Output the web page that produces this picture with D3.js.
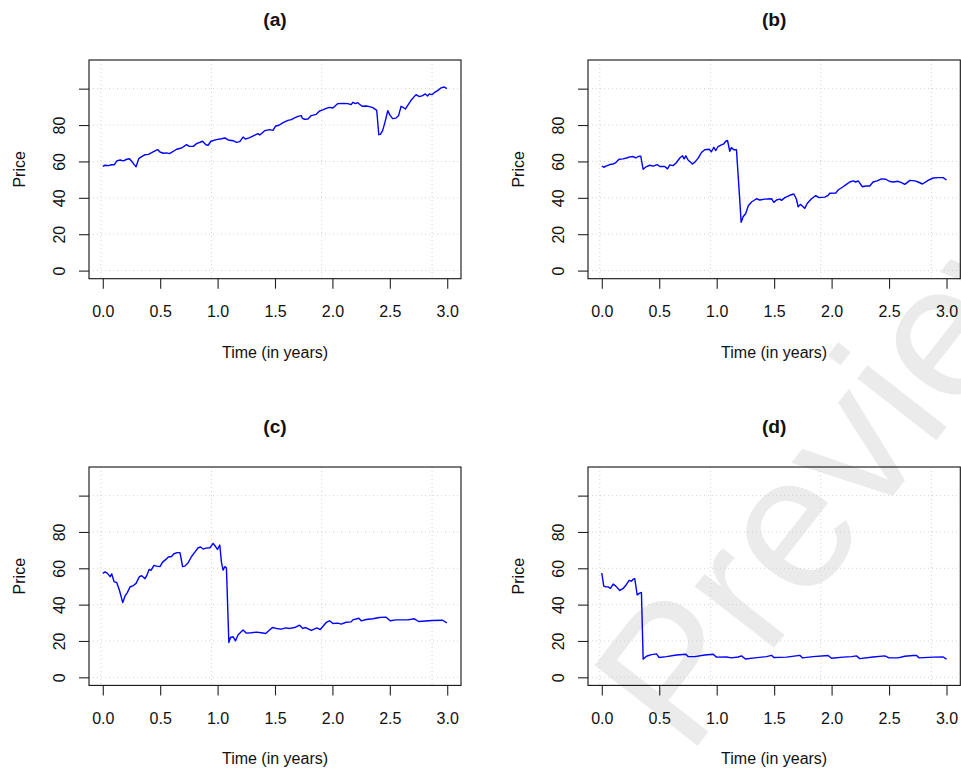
<!DOCTYPE html>
<html><head><meta charset="utf-8">
<script src="https://cdn.jsdelivr.net/npm/d3@7"></script>
<style>
body{margin:0;background:#fff;}
svg text{font-family:"Liberation Sans",Arial,Helvetica,sans-serif;}
</style>
</head><body>
<svg id="chart" width="961" height="769"></svg>
<script>
// ---------------- data ----------------
const panelTitles = ["(a)", "(b)", "(c)", "(d)"];
const xLabel = "Time (in years)";
const yLabel = "Price";
const xTicks = [0, 0.5, 1, 1.5, 2, 2.5, 3];
const xTickLabels = ["0.0", "0.5", "1.0", "1.5", "2.0", "2.5", "3.0"];
const yTicks = [0, 20, 40, 60, 80, 100];
const yTickLabels = ["0", "20", "40", "60", "80", ""];
const gridX = [-0.017, 0.947, 1.906, 2.868];
const gridY = [0, 20, 40, 60, 80, 100];
const xLimits = [0, 3];
const yLimits = [0, 111.3];

const timeA = [0,0.020,0.049,0.078,0.101,0.122,0.151,0.180,0.209,0.232,0.252,0.272,0.290,0.313,0.339,0.368,0.397,0.426,0.455,0.478,0.498,0.527,0.556,0.579,0.599,0.643,0.686,0.730,0.753,0.788,0.817,0.869,0.898,0.918,0.941,0.990,1.034,1.063,1.092,1.135,1.164,1.193,1.222,1.242,1.280,1.324,1.352,1.367,1.410,1.454,1.483,1.506,1.535,1.570,1.613,1.642,1.671,1.700,1.729,1.738,1.758,1.787,1.816,1.859,1.888,1.917,1.946,1.975,2.004,2.048,2.091,2.134,2.163,2.178,2.201,2.221,2.236,2.259,2.294,2.323,2.352,2.386,2.404,2.418,2.438,2.462,2.482,2.502,2.525,2.554,2.577,2.598,2.612,2.635,2.656,2.685,2.728,2.757,2.786,2.809,2.829,2.844,2.867,2.887,2.916,2.945,2.974,2.997];
const priceA = [57.3,57.9,57.7,58.2,58.2,60.3,60.8,60.3,61.2,61.5,60.1,58.4,57.1,61.5,62.6,63.7,63.9,64.8,65.8,66.5,65.2,64.5,64.7,64.3,65.0,66.7,67.4,69.2,68.3,68.3,69.8,71.1,69.2,68.9,71.1,72.0,72.5,72.9,71.8,71.4,70.5,70.9,73.4,72.3,73.1,74.4,75.3,74.5,76.9,77.5,77.1,79.5,79.9,81.3,82.6,83.0,83.9,84.8,85.2,83.7,83.2,83.3,85.2,85.9,87.7,88.3,89.2,89.7,89.4,91.8,91.9,91.8,91.2,92.5,91.8,92.3,91.4,90.3,90.5,90.1,89.6,88.1,74.7,74.9,77.1,82.6,87.9,85.3,83.5,83.8,85.3,90.3,89.9,88.8,90.8,93.6,96.7,95.6,96.2,97.1,96.0,97.1,96.7,97.8,98.9,100.4,100.9,100.0];

const timeB = [0,0.017,0.041,0.070,0.099,0.122,0.151,0.186,0.215,0.244,0.273,0.296,0.316,0.339,0.360,0.389,0.418,0.447,0.482,0.505,0.548,0.572,0.592,0.621,0.650,0.679,0.702,0.717,0.731,0.751,0.789,0.810,0.839,0.867,0.896,0.934,0.954,0.975,0.992,1.012,1.041,1.062,1.079,1.094,1.114,1.128,1.149,1.172,1.195,1.213,1.230,1.253,1.274,1.303,1.346,1.375,1.419,1.477,1.497,1.520,1.549,1.564,1.593,1.636,1.671,1.694,1.709,1.729,1.752,1.767,1.787,1.825,1.862,1.891,1.941,1.970,1.984,2.036,2.057,2.100,2.129,2.158,2.187,2.210,2.231,2.268,2.297,2.332,2.361,2.396,2.434,2.471,2.501,2.536,2.579,2.608,2.637,2.681,2.724,2.753,2.791,2.840,2.884,2.927,2.971,3.000];
const priceB = [57.5,56.8,57.5,58.3,58.6,59.4,61.2,61.4,61.9,62.5,62.7,61.9,62.7,62.9,55.7,57.2,57.9,57.4,58.3,57.2,57.2,55.9,58.1,57.7,59.4,61.9,63.1,61.4,63.1,60.8,58.6,59.6,61.8,64.9,66.4,66.7,65.3,67.8,66.0,68.2,69.1,69.7,71.1,71.5,65.6,67.6,66.4,66.4,44.3,26.5,29.6,31.4,35.5,37.7,39.5,38.8,39.3,39.5,37.5,38.8,39.3,38.6,40.1,41.4,42.1,39.2,35.1,36.4,35.1,34.2,36.9,39.5,41.2,40.1,40.4,41.4,42.5,42.6,44.3,46.1,47.4,48.7,49.3,48.7,49.3,46.1,46.5,46.5,48.7,49.3,50.4,50.2,49.1,48.7,49.1,48.3,47.4,49.6,49.3,48.7,47.6,49.6,50.9,51.1,51.1,49.8];

const timeC = [0,0.020,0.041,0.064,0.078,0.098,0.122,0.145,0.174,0.194,0.214,0.237,0.266,0.290,0.319,0.339,0.368,0.382,0.403,0.420,0.446,0.469,0.498,0.521,0.550,0.571,0.599,0.620,0.649,0.672,0.681,0.695,0.715,0.744,0.773,0.802,0.831,0.851,0.875,0.898,0.933,0.961,0.985,0.999,1.019,1.034,1.048,1.063,1.077,1.098,1.112,1.135,1.156,1.179,1.222,1.251,1.295,1.338,1.381,1.419,1.477,1.512,1.555,1.593,1.628,1.671,1.714,1.743,1.767,1.816,1.865,1.894,1.946,1.975,2.004,2.048,2.076,2.120,2.163,2.178,2.230,2.251,2.294,2.352,2.410,2.468,2.503,2.554,2.656,2.714,2.751,2.873,2.960,2.997];
const priceC = [57.2,58.0,57.2,55.4,56.9,52.7,52.1,47.9,41.1,44.8,46.6,49.7,50.5,51.7,55.4,55.9,54.3,55.8,59.4,58.9,61.6,61.2,60.9,63.4,64.9,66.2,66.5,68.0,68.6,68.6,65.8,60.9,61.2,63.1,66.5,68.9,71.3,71.7,70.6,71.1,71.3,73.7,71.7,70.4,72.8,63.1,59.0,60.9,60.3,19.2,21.9,22.3,20.1,23.4,26.0,24.3,24.5,24.9,24.5,24.1,27.4,26.9,26.5,27.2,26.9,27.4,28.7,26.9,27.4,25.8,27.2,26.3,30.2,31.1,29.6,29.8,29.3,30.3,30.5,31.6,32.5,31.1,31.8,32.2,32.9,33.1,31.1,31.6,31.6,32.2,30.7,31.3,31.4,30.0];

const timeD = [0,0.017,0.035,0.055,0.075,0.099,0.122,0.157,0.186,0.215,0.238,0.258,0.273,0.287,0.308,0.325,0.345,0.360,0.389,0.432,0.476,0.499,0.563,0.650,0.731,0.751,0.810,0.896,0.969,0.998,1.085,1.128,1.187,1.216,1.250,1.332,1.433,1.477,1.497,1.607,1.723,1.746,1.839,1.970,1.999,2.100,2.173,2.216,2.245,2.361,2.463,2.501,2.579,2.637,2.710,2.739,2.762,2.884,2.971,3.000];
const priceD = [57.4,50.2,49.8,49.8,48.9,51.3,50.2,47.8,48.9,51.1,53.4,52.9,54.0,54.3,45.3,46.2,46.7,10.0,11.6,12.5,12.9,10.9,11.4,12.3,12.7,11.4,11.4,12.3,12.7,11.1,11.2,10.7,11.2,11.8,10.1,10.7,11.4,12.1,10.9,11.1,12.1,10.7,11.4,12.0,10.5,11.1,11.4,11.8,10.3,11.2,11.8,10.7,10.7,11.6,12.0,12.0,10.7,11.1,11.2,10.0];

const seriesTimes = [timeA, timeB, timeC, timeD];
const seriesPrices = [priceA, priceB, priceC, priceD];

// ---------------- layout ----------------
const boxes = [
  {l: 89,  r: 461,   t: 60,  b: 278.7},
  {l: 588, r: 960.3, t: 60,  b: 278.7},
  {l: 89,  r: 461,   t: 467, b: 685.4},
  {l: 588, r: 960.3, t: 467, b: 685.4}
];
const FONT = '"Liberation Sans",Arial,Helvetica,sans-serif';
const svg = d3.select("#chart");

// watermark (behind the plots)
svg.append("text")
  .attr("transform", "translate(688,758) rotate(-52)")
  .attr("font-size", 190)
  .attr("fill", "#ebebeb")
  .text("Preview");

function expand(lim) { const d = (lim[1] - lim[0]) * 0.04; return [lim[0] - d, lim[1] + d]; }

boxes.forEach((bx, i) => {
  const g = svg.append("g");
  const x = d3.scaleLinear().domain(expand(xLimits)).range([bx.l, bx.r]);
  const y = d3.scaleLinear().domain(expand(yLimits)).range([bx.b, bx.t]);

  // grid
  g.append("g").selectAll("line").data(gridX).join("line")
    .attr("x1", d => x(d)).attr("x2", d => x(d))
    .attr("y1", bx.t).attr("y2", bx.b)
    .attr("stroke", "#d3d3d3").attr("stroke-width", 1).attr("stroke-dasharray", "1,3");
  g.append("g").selectAll("line").data(gridY).join("line")
    .attr("x1", bx.l).attr("x2", bx.r)
    .attr("y1", d => y(d)).attr("y2", d => y(d))
    .attr("stroke", "#d3d3d3").attr("stroke-width", 1).attr("stroke-dasharray", "1,3");

  // series
  const pts = seriesTimes[i].map((t, k) => [t, seriesPrices[i][k]]);
  g.append("path").datum(pts)
    .attr("d", d3.line().x(d => x(d[0])).y(d => y(d[1])))
    .attr("fill", "none").attr("stroke", "#0000ff").attr("stroke-width", 1.4)
    .attr("stroke-linejoin", "round");

  // box
  g.append("rect").attr("x", bx.l).attr("y", bx.t)
    .attr("width", bx.r - bx.l).attr("height", bx.b - bx.t)
    .attr("fill", "none").attr("stroke", "#111").attr("stroke-width", 1.1);

  // x axis
  const xa = g.append("g").attr("transform", `translate(0,${bx.b})`)
    .call(d3.axisBottom(x).tickValues(xTicks).tickSize(10).tickFormat((d, k) => xTickLabels[k]));
  xa.select(".domain").remove();
  xa.selectAll(".tick line").attr("stroke", "#222").attr("stroke-width", 1.1);
  xa.selectAll(".tick text").attr("y", 38.3).attr("dy", null)
    .attr("font-size", 16).attr("font-family", FONT).attr("fill", "#111");

  // y axis
  const ya = g.append("g").attr("transform", `translate(${bx.l},0)`)
    .call(d3.axisLeft(y).tickValues(yTicks).tickSize(10).tickFormat((d, k) => yTickLabels[k]));
  ya.select(".domain").remove();
  ya.selectAll(".tick line").attr("stroke", "#222").attr("stroke-width", 1.1);
  ya.selectAll(".tick text")
    .attr("transform", "rotate(-90)")
    .attr("x", 0).attr("y", -24).attr("dy", null).attr("text-anchor", "middle")
    .attr("font-size", 16).attr("font-family", FONT).attr("fill", "#111");

  // title
  g.append("text").attr("x", (bx.l + bx.r) / 2).attr("y", bx.t - 34)
    .attr("text-anchor", "middle").attr("font-size", 19.2).attr("font-weight", "bold")
    .attr("fill", "#111").text(panelTitles[i]);

  // axis titles
  g.append("text").attr("x", (bx.l + bx.r) / 2).attr("y", bx.b + 78.8)
    .attr("text-anchor", "middle").attr("font-size", 16).attr("fill", "#111").text(xLabel);
  g.append("text")
    .attr("transform", `translate(${bx.l - 64.5},${(bx.t + bx.b) / 2}) rotate(-90)`)
    .attr("text-anchor", "middle").attr("font-size", 16).attr("fill", "#111").text(yLabel);
});
</script>
</body></html>
